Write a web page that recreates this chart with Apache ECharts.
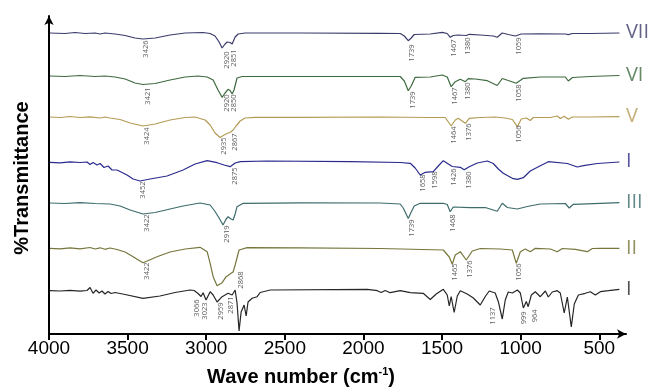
<!DOCTYPE html>
<html>
<head>
<meta charset="utf-8">
<script src="https://cdn.jsdelivr.net/npm/echarts@6/dist/echarts.min.js"></script>
<style>
  html, body { margin: 0; padding: 0; background: #fff; }
  #chart { width: 649px; height: 387px; }
</style>
</head>
<body>
<div id="chart"></div>
<script>
// FTIR spectra, stacked: [wavenumber cm-1, %T with offset]
const specVII = [[3994,301],[3898,300.5],[3835,301.5],[3771,300.5],[3707,301],[3675,300],[3644,301],[3580,300],[3516,298.5],[3453,296],[3402,295],[3325,296],[3230,299],[3134,301],[3020,301.5],[2975,300.5],[2944,298],[2918,292],[2899,286],[2880,290],[2867,292],[2848,291.5],[2835,290],[2816,297],[2797,300],[2753,301],[2403,301],[1893,300.7],[1766,300.5],[1740,298],[1715,293.3],[1696,296],[1677,299.5],[1575,300],[1499,301.7],[1467,300.5],[1448,296.7],[1429,298.5],[1397,299],[1346,298.5],[1327,299.7],[1257,299],[1174,298],[1149,296.7],[1117,301],[1079,299.5],[1034,298],[996,300],[875,300.2],[716,300],[697,299.3],[671,300.5],[557,300.5],[372,301]]
const specVI = [[3994,258],[3898,257.5],[3803,258.5],[3707,257.5],[3644,258],[3580,257],[3516,255],[3453,251],[3402,249.5],[3325,250.5],[3230,254],[3134,257],[3052,258],[2994,257],[2956,254],[2925,244],[2899,236.7],[2880,241],[2861,244.7],[2848,243.5],[2835,240],[2823,244],[2804,256],[2772,257.5],[2403,257.5],[1893,257.5],[1766,257.5],[1740,253],[1715,243.3],[1696,248],[1671,256.7],[1575,257],[1499,259],[1467,257],[1442,247.3],[1416,252.3],[1384,254.7],[1352,252.3],[1333,255.3],[1289,255],[1212,253.3],[1149,248.5],[1117,255.5],[1079,253.5],[1028,250.7],[983,255.7],[875,257],[716,257],[697,253],[671,256.5],[557,257.5],[372,258.5]]
const specV = [[3994,217],[3930,216.5],[3866,217.5],[3803,216.5],[3739,217.2],[3675,216],[3644,217],[3612,216],[3548,214.5],[3484,211],[3402,208],[3325,210],[3230,214],[3134,216.5],[3071,217],[3007,214],[2975,209],[2944,201],[2912,196.5],[2886,199],[2861,201],[2848,201.5],[2829,204],[2810,208],[2784,213],[2753,216],[2689,216.7],[2403,216.7],[1893,217],[1575,216.5],[1480,216.5],[1442,208],[1416,214],[1397,215.7],[1352,210.7],[1327,215.7],[1257,216.5],[1162,217],[1098,216],[1053,214.5],[1021,207.3],[996,215],[964,216],[939,213.5],[920,216.5],[811,216.5],[767,218],[748,215.5],[723,217.7],[697,214.7],[671,217],[557,217],[372,217.3]]
const specIb = [[3994,171.7],[3930,171.2],[3866,172.2],[3803,171.5],[3758,172],[3739,169.5],[3720,171.5],[3694,169],[3675,170.5],[3650,166.5],[3624,168],[3599,164],[3567,164],[3504,159],[3465,155],[3421,153],[3357,155],[3249,158],[3147,164],[3071,170],[2994,173.3],[2931,171.3],[2886,169],[2848,167.3],[2816,171],[2784,172.3],[2613,173],[2084,172.3],[1766,171.5],[1702,170.7],[1671,166],[1639,159],[1607,161.7],[1556,162.3],[1524,168],[1492,173.3],[1435,167.5],[1384,166.7],[1359,164.2],[1327,167.3],[1276,171],[1212,173],[1174,170.5],[1142,165],[1111,160.7],[1079,158],[1053,155.7],[1021,154.7],[983,156.3],[939,163],[875,168.3],[824,172.3],[703,170.5],[640,167],[601,168.3],[512,170.5],[372,172]]
const specIII = [[3994,131],[3898,130.5],[3803,131.3],[3707,130.5],[3612,130],[3548,128],[3484,124],[3402,120],[3325,121.5],[3230,125],[3147,128],[3039,131],[2975,129],[2944,122.5],[2918,116],[2893,109],[2873,115],[2861,117.3],[2842,115],[2829,114],[2816,120],[2804,127.3],[2765,130.7],[2403,131.2],[1893,131],[1766,130],[1747,126],[1715,115.5],[1696,122],[1677,128],[1639,130.7],[1492,130.7],[1467,129.5],[1448,122.3],[1429,127],[1321,126.3],[1225,126.5],[1149,122.7],[1117,130.7],[1085,126.5],[1021,125],[958,127.5],[875,130],[716,130.5],[691,126],[665,129.7],[493,130.7],[372,131.3]]
const specII = [[3994,85.7],[3930,85.2],[3866,86.2],[3803,85.2],[3739,86.5],[3707,85],[3675,86.2],[3644,84.7],[3612,86],[3567,84.5],[3516,82],[3465,77.3],[3421,73],[3402,71.3],[3376,73],[3313,77.3],[3230,82],[3134,85],[3039,86.7],[2994,82.3],[2975,70.7],[2956,57.3],[2931,48.3],[2899,51.3],[2873,57.3],[2861,56],[2842,60.7],[2829,62],[2816,69],[2791,84],[2740,86.3],[2403,86.2],[1893,85.5],[1492,84],[1454,77],[1435,69.7],[1416,79],[1384,82.3],[1346,74],[1308,83],[1257,85.5],[1130,85],[1053,84],[1028,70.7],[1002,82.3],[970,85],[939,82.3],[907,85.7],[811,85],[767,82.3],[735,85.5],[652,84.7],[576,82.3],[544,85.5],[493,85.7],[372,85.7]]
const specIk = [[3994,43.3],[3930,43],[3866,43.7],[3803,42.8],[3758,43.5],[3739,46.5],[3720,40.7],[3701,44],[3681,41],[3663,43],[3644,40],[3624,42.5],[3605,40.5],[3580,41.5],[3516,39.5],[3402,35.7],[3294,38],[3198,41.5],[3103,44],[3077,43.5],[3052,40.5],[3033,37.5],[3020,41.3],[3001,34],[2975,42.3],[2956,39],[2931,32],[2899,37.3],[2861,40.7],[2835,39],[2816,44],[2804,31],[2791,3],[2778,22],[2759,29],[2746,18],[2734,32],[2708,35.7],[2676,37.3],[2657,41.5],[2593,44],[1976,44.7],[1912,43.3],[1887,41.5],[1862,43.5],[1830,41.3],[1766,43.3],[1702,41.3],[1620,40.7],[1575,34.5],[1537,40],[1492,44.7],[1467,39],[1454,28],[1442,37.5],[1423,21.5],[1403,38],[1384,43.3],[1340,40],[1301,36],[1257,29],[1225,37.5],[1200,43],[1162,41],[1142,32.3],[1117,15],[1098,34],[1079,42],[1053,41],[1021,44],[1002,41],[983,26],[964,32.5],[952,27.3],[932,39],[907,42.3],[875,37.3],[843,43],[824,37],[799,42],[767,43.3],[748,41],[723,21],[703,37],[678,7],[659,30],[633,39],[589,40.7],[557,42.3],[525,39],[493,42.3],[442,43.3],[372,44.7]]

// peak annotations: [wavenumber position, label top, text]
const peaksVII = [[3383,293,'3426'],[2867,282,'2920'],[2823,284,'2851'],[1690,289,'1739'],[1423,294,'1467'],[1333,296,'1380'],[1009,296,'1059']]
const peaksVI = [[3370,246,'3421'],[2867,239,'2920'],[2823,239,'2850'],[1683,242,'1739'],[1416,246,'1467'],[1333,251,'1380'],[1009,249,'1058']]
const peaksV = [[3376,206,'3424'],[2886,196,'2935'],[2816,200,'2867'],[1423,207,'1464'],[1327,210,'1376'],[1009,208,'1056']]
const peaksIb = [[3402,152,'3452'],[2816,166,'2875'],[1620,159,'1658'],[1543,162,'1598'],[1423,165,'1426'],[1327,162,'1380']]
const peaksIII = [[3376,119,'3422'],[2867,108,'2919'],[1690,114,'1739'],[1429,119,'1468']]
const peaksII = [[3376,71,'3422'],[2778,62,'2868'],[1416,70,'1465'],[1321,73,'1376'],[1009,70,'1056']]
const peaksIk = [[3058,34,'3066'],[3007,31,'3023'],[2905,31,'2959'],[2842,37,'2871'],[1174,26,'1137'],[977,22,'999'],[907,24,'964']]

const names = ['VII', 'VI', 'V', 'I', 'III', 'II', 'I']
const colors = ['#3b3b6b', '#3e6a40', '#b49b55', '#2a2a8e', '#3d6c6b', '#76763c', '#262626']
const tickValues = [4000, 3500, 3000, 2500, 2000, 1500, 1000, 500]

const spectra = [specVII, specVI, specV, specIb, specIII, specII, specIk]
const peaks = [peaksVII, peaksVI, peaksV, peaksIb, peaksIII, peaksII, peaksIk]

const chart = echarts.init(document.getElementById('chart'))

const series = []
spectra.forEach((data, i) => {
  series.push({
    type: 'line',
    data: data,
    showSymbol: false,
    symbol: 'none',
    lineStyle: { color: colors[i], width: 1.2 },
    z: 3,
  })
  series.push({
    type: 'scatter',
    data: peaks[i],
    symbolSize: 1,
    itemStyle: { color: 'rgba(0,0,0,0)' },
    label: {
      show: true,
      position: [0, 0],
      rotate: 90,
      align: 'right',
      verticalAlign: 'middle',
      formatter: p => p.data[2],
      color: '#333',
      fontSize: 7.5,
      fontFamily: 'Open Sans',
    },
    z: 4,
  })
  const last = data[data.length - 1]
  series.push({
    type: 'scatter',
    data: [[last[0], last[1], names[i]]],
    symbolSize: 1,
    itemStyle: { color: 'rgba(0,0,0,0)' },
    label: {
      show: true,
      position: [7, 0],
      align: 'left',
      verticalAlign: 'middle',
      formatter: p => p.data[2],
      color: colors[i],
      fontSize: 20,
      fontFamily: 'Open Sans',
    },
    z: 4,
  })
})

chart.setOption({
  animation: false,
  backgroundColor: '#fff',
  grid: { left: 49, top: 16, width: 577, height: 318 },
  xAxis: {
    type: 'value',
    inverse: true,
    min: 330,
    max: 4000,
    axisLine: {
      show: true,
      symbol: ['none', 'arrow'],
      symbolSize: [7, 9],
      lineStyle: { color: '#000', width: 2 },
    },
    axisTick: {
      show: true,
      length: 6,
      customValues: tickValues,
      lineStyle: { color: '#000', width: 2 },
    },
    axisLabel: {
      customValues: tickValues,
      formatter: v => String(v),
      margin: 5,
      color: '#000',
      fontSize: 19,
      fontFamily: 'Liberation Sans',
    },
    splitLine: { show: false },
  },
  yAxis: {
    type: 'value',
    min: 0,
    max: 318,
    axisLine: {
      show: true,
      symbol: ['none', 'arrow'],
      symbolSize: [7, 9],
      lineStyle: { color: '#000', width: 2 },
    },
    axisTick: { show: false },
    axisLabel: { show: false },
    splitLine: { show: false },
  },
  graphic: [
    {
      type: 'text',
      x: 301,
      y: 377,
      style: {
        text: '{a|Wave number (cm}{s|-1}{a|)}',
        align: 'center',
        verticalAlign: 'middle',
        rich: {
          a: { fontSize: 20, fontWeight: 'bold', fontFamily: 'Liberation Sans', lineHeight: 22, fill: '#000' },
          s: { fontSize: 11, fontWeight: 'bold', fontFamily: 'Liberation Sans', lineHeight: 12, verticalAlign: 'top', fill: '#000' },
        },
      },
    },
    {
      type: 'text',
      x: 22,
      y: 178,
      rotation: Math.PI / 2,
      style: {
        text: '%Transmittance',
        align: 'center',
        verticalAlign: 'middle',
        fontSize: 20,
        fontWeight: 'bold',
        fontFamily: 'Liberation Sans',
        fill: '#000',
      },
    },
  ],
  series: series,
})
</script>
</body>
</html>
